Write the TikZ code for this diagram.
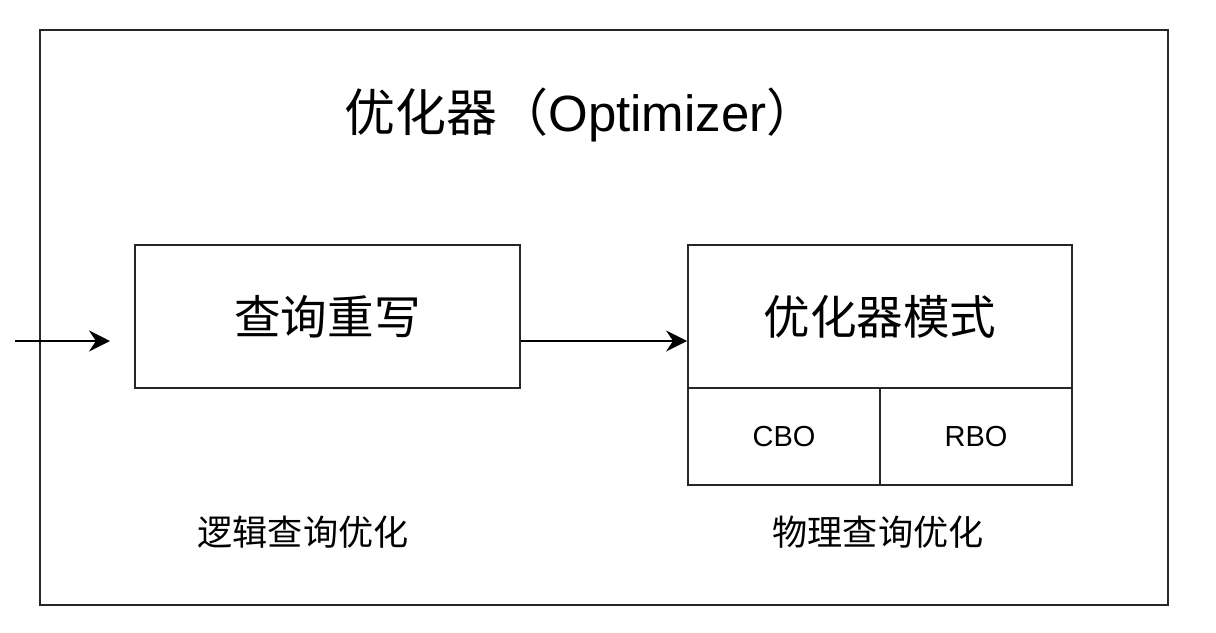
\documentclass[tikz,border=0pt]{standalone}
\usepackage{fontspec}
\setmainfont{Liberation Sans}
\newfontfamily\cjk{Noto Sans CJK SC}
\usetikzlibrary{arrows.meta,positioning}
\tikzset{
  frame/.style    = {draw=black!85, line width=1.1pt},
  stagebox/.style = {draw=black!85, line width=1.1pt, minimum width=7.7cm,
                     minimum height=2.86cm, inner sep=0pt,
                     font=\cjk\fontsize{26.5}{30}\selectfont},
  cellbox/.style  = {draw=black!85, line width=1.1pt, minimum width=3.84cm,
                     minimum height=1.94cm, inner sep=0pt,
                     font=\fontsize{16.5}{19}\selectfont},
  caption/.style  = {font=\cjk\fontsize{20}{24}\selectfont},
  flow/.style     = {-{Stealth[length=4.2mm,width=4.2mm,inset=1.4mm]}, line width=1.1pt},
}

\begin{document}
\begin{tikzpicture}[x=0.02cm,y=-0.02cm]
  \useasboundingbox (0,0) rectangle (1216,632);
  % outer frame
  \node[frame, minimum width=22.56cm, minimum height=11.5cm, inner sep=0pt] (optimizer) at (604,317.5) {};
  \node[font=\fontsize{29}{34}\selectfont] (title) at (581,115) {{\cjk 优化器（}Optimizer{\cjk ）}};

  % logical stage
  \node[stagebox] (rewrite) at (327.5,316.5) {查询重写};
  \node[caption] (logical) at (303,532) {逻辑查询优化};

  % physical stage
  \node[stagebox, minimum width=7.68cm] (mode) at (880,316.5) {优化器模式};
  \node[cellbox] (cbo) at (784,436.5) {CBO};
  \node[cellbox] (rbo) at (976,436.5) {RBO};
  \node[caption] (physical) at (878,532) {物理查询优化};

  \coordinate (input) at (15,341);
  \coordinate (inputend) at (110,341);
  \draw[flow] (input) -- (inputend);
  \draw[flow] (rewrite.east |- input) -- (mode.west |- input);
\end{tikzpicture}
\end{document}
